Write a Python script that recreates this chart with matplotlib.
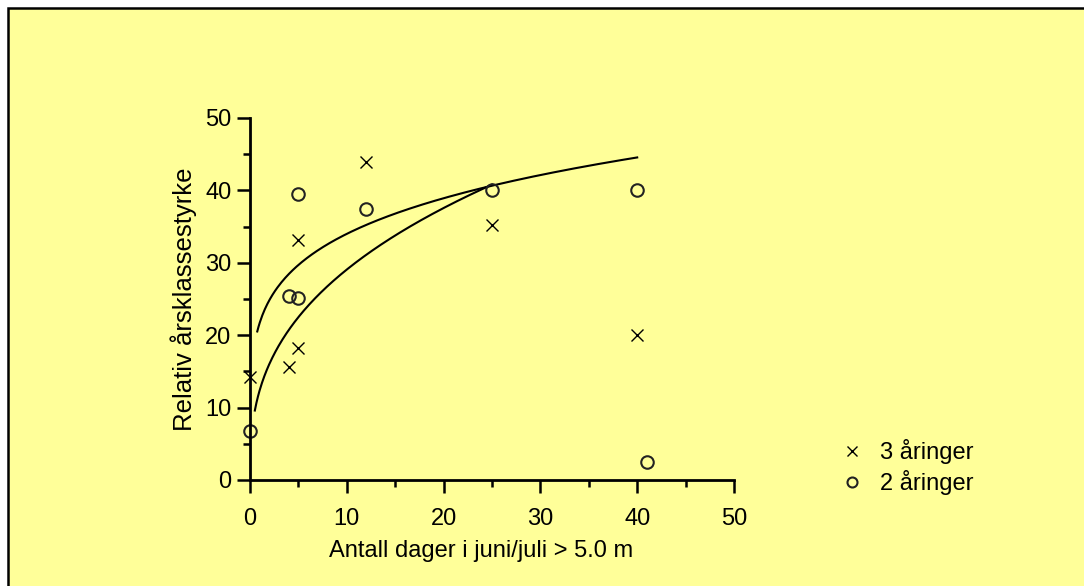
import matplotlib

matplotlib.use("Agg")

import matplotlib.pyplot as plt
import numpy as np
from matplotlib.axes import Axes
from matplotlib.figure import Figure
from matplotlib.patches import Rectangle

plt.rcParams["font.family"] = ["Liberation Sans", "DejaVu Sans"]

# 3 åringer
dager_3 = [0, 4, 5, 5, 12, 25, 40]
styrke_3 = [14.2, 15.6, 18.2, 33.2, 43.9, 35.2, 20.0]

# 2 åringer
dager_2 = [0, 4, 5, 5, 12, 25, 40, 41]
styrke_2 = [6.8, 25.4, 25.1, 39.5, 37.5, 40.0, 40.0, 2.5]

# tilpassede kurver y = a * x^b
kurve_a = [21.7, 12.4]
kurve_b = [0.195, 0.37]
kurve_fra = [0.75, 0.5]
kurve_til = [40, 25]

bg = "#FFFF99"

fig: Figure = plt.figure(figsize=(10.84, 5.86), dpi=100)
fig.patch.set_facecolor("white")

# gul ramme
ramme = Rectangle(
    (8 / 1084, -0.1),
    1.2,
    1.1 - 8 / 586,
    transform=fig.transFigure,
    facecolor=bg,
    edgecolor="black",
    linewidth=1.8,
    zorder=0,
)
fig.add_artist(ramme)

ax: Axes = fig.add_axes([250 / 1084, 1 - 480 / 586, 484 / 1084, 362 / 586])
ax.set_facecolor("none")

for a, b, x0, x1 in zip(kurve_a, kurve_b, kurve_fra, kurve_til):
    xs = np.linspace(x0, x1, 300)
    ax.plot(xs, a * xs**b, color="black", linewidth=1.5, clip_on=False)

ax.plot(
    dager_3,
    styrke_3,
    linestyle="none",
    marker="x",
    markersize=9,
    markeredgewidth=1.0,
    color="black",
    clip_on=False,
    label="3 åringer",
)
ax.plot(
    dager_2,
    styrke_2,
    linestyle="none",
    marker="o",
    markersize=9,
    markeredgewidth=1.5,
    markerfacecolor="none",
    markeredgecolor="#222222",
    clip_on=False,
    label="2 åringer",
)

ax.set_xlim(0, 50)
ax.set_ylim(0, 50)
ax.set_xticks(range(0, 51, 10))
ax.set_yticks(range(0, 51, 10))
ax.set_xticks(range(5, 50, 10), minor=True)
ax.set_yticks(range(5, 50, 10), minor=True)

for side in ["top", "right"]:
    ax.spines[side].set_visible(False)
for side in ["left", "bottom"]:
    ax.spines[side].set_linewidth(2)

ax.tick_params(which="major", length=9.5, width=1.8, labelsize=17)
ax.tick_params(which="minor", length=5, width=1.8)
ax.tick_params(axis="x", which="major", pad=11)
ax.tick_params(axis="y", which="major", pad=4)

ax.set_xlabel("Antall dager i juni/juli > 5.0 m", fontsize=17)
ax.set_ylabel("Relativ årsklassestyrke", fontsize=18.5)
ax.xaxis.set_label_coords(0.478, -0.165)
ax.yaxis.set_label_coords(-0.11, 0.5)

ax.legend(
    loc="upper left",
    bbox_to_anchor=(840 / 1084, 1 - 439 / 586),
    bbox_transform=fig.transFigure,
    frameon=False,
    fontsize=17,
    markerscale=0.8,
    handlelength=1.0,
    handletextpad=0.7,
    labelspacing=0.25,
    borderaxespad=0,
    borderpad=0,
)

fig.savefig("out.png", dpi=100, facecolor=fig.get_facecolor())
